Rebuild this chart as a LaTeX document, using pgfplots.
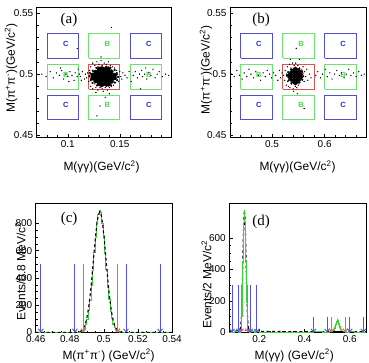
\documentclass[border=0pt]{standalone}
\usepackage{fontspec}
\setmainfont{Liberation Sans}
\newfontfamily\seriffont{Liberation Serif}
\usepackage{pgfplots}
\pgfplotsset{compat=1.18}
\usetikzlibrary{arrows.meta}
\definecolor{bbox}{RGB}{80,80,205}
\definecolor{gbox}{RGB}{110,225,110}
\definecolor{rbox}{RGB}{225,80,80}
\definecolor{ctext}{RGB}{40,40,210}
\definecolor{btext}{RGB}{60,225,60}
\definecolor{atext}{RGB}{230,30,30}
\definecolor{hgreen}{RGB}{60,210,60}
\definecolor{arrowblue}{RGB}{80,80,235}
\definecolor{myred}{RGB}{245,95,95}
\pgfplotsset{
  panel/.style={
    scale only axis,
    axis line style={line width=0.6pt},
    tick align=inside, tick pos=left,
    major tick length=3.5pt, minor tick length=2pt,
    every tick/.style={black, line width=0.5pt},
    /pgf/number format/assume math mode=true,
    /pgf/number format/fixed,
    tick label style={font=\fontsize{10}{12}\selectfont},
    label style={font=\fontsize{12}{14}\selectfont},
  }
}
\newcommand{\bx}[5]{\addplot[color=#1, line width=0.7pt, line join=miter] coordinates {(#2,#4) (#3,#4) (#3,#5) (#2,#5) (#2,#4)};}
\newcommand{\arr}[3]{\addplot[color=#1, line width=0.9pt, -{Straight Barb[length=3pt,width=5pt]}] coordinates {(#2,#3) (#2,0)};}
\newcommand{\rarr}[2]{\addplot[color=myred, line width=1.1pt, -{Straight Barb[length=3pt,width=5pt]}] coordinates {(#1,#2) (#1,0)};}
\newcommand{\lt}[4]{\node[text=#1, font=\fontsize{7.5}{9}\selectfont\bfseries] at (axis cs:#2,#3) {#4};}
\begin{document}
\begin{tikzpicture}
\path[use as bounding box] (0,0) rectangle (369bp,-363bp);

% ---------------- (a) ----------------
\begin{axis}[panel, at={(36.7bp,-137.3bp)}, anchor=south west,
  width=135bp, height=130bp,
  xmin=0.07, xmax=0.2, ymin=0.4485, ymax=0.5545,
  xtick={0.1,0.15}, ytick={0.45,0.5,0.55},
  minor xtick={0.07,0.08,0.09,0.11,0.12,0.13,0.14,0.16,0.17,0.18,0.19,0.2},
  minor ytick={0.46,0.47,0.48,0.49,0.51,0.52,0.53,0.54},
  xlabel={M(γγ)(GeV/c\textsuperscript{2})},
  ylabel={M(π\textsuperscript{+}π\textsuperscript{-})(GeV/c\textsuperscript{2})},
  xlabel style={at={(axis description cs:0.48,-0.228)}, anchor=center},
  ylabel style={at={(axis description cs:-0.19,0.533)}, anchor=center},
]
\bx{bbox}{0.08}{0.11}{0.513}{0.533}
\bx{bbox}{0.16}{0.19}{0.513}{0.533}
\bx{bbox}{0.08}{0.11}{0.463}{0.483}
\bx{bbox}{0.16}{0.19}{0.463}{0.483}
\bx{gbox}{0.12}{0.15}{0.513}{0.533}
\bx{gbox}{0.12}{0.15}{0.463}{0.483}
\bx{gbox}{0.08}{0.11}{0.488}{0.508}
\bx{gbox}{0.16}{0.19}{0.488}{0.508}
\bx{rbox}{0.12}{0.15}{0.488}{0.508}
\addplot[only marks, mark=*, mark size=0.4pt, black] coordinates {
(0.118,0.497)(0.119,0.501)(0.120,0.494)(0.121,0.503)(0.121,0.499)(0.122,0.490)(0.122,0.506)(0.123,0.498)
(0.124,0.488)(0.124,0.509)(0.125,0.502)(0.126,0.492)(0.126,0.507)(0.127,0.489)(0.128,0.510)(0.129,0.487)
(0.129,0.506)(0.130,0.508)(0.131,0.489)(0.132,0.511)(0.133,0.488)(0.133,0.507)(0.134,0.486)(0.135,0.509)
(0.136,0.489)(0.137,0.508)(0.138,0.487)(0.139,0.510)(0.140,0.489)(0.141,0.507)(0.142,0.490)(0.143,0.506)
(0.144,0.491)(0.145,0.505)(0.146,0.493)(0.147,0.503)(0.147,0.496)(0.148,0.500)(0.149,0.494)(0.150,0.502)
(0.151,0.498)(0.152,0.496)(0.153,0.501)(0.155,0.499)(0.117,0.500)(0.116,0.496)(0.114,0.502)(0.112,0.498)
(0.113,0.495)(0.157,0.497)(0.159,0.502)(0.127,0.485)(0.140,0.484)(0.132,0.514)(0.136,0.481)
(0.075,0.500)(0.079,0.498)(0.083,0.502)(0.086,0.497)(0.089,0.501)(0.092,0.499)(0.094,0.503)(0.096,0.496)
(0.098,0.500)(0.100,0.498)(0.102,0.502)(0.104,0.499)(0.106,0.495)(0.107,0.501)(0.109,0.498)(0.110,0.504)
(0.111,0.500)(0.163,0.499)(0.165,0.502)(0.167,0.497)(0.169,0.500)(0.171,0.503)(0.172,0.498)(0.174,0.500)
(0.176,0.496)(0.178,0.501)(0.180,0.499)(0.182,0.504)(0.184,0.497)(0.186,0.500)(0.188,0.502)(0.191,0.498)
(0.194,0.500)(0.197,0.499)(0.161,0.494)(0.175,0.505)(0.093,0.505)(0.101,0.494)
(0.142,0.538)(0.131,0.474)(0.109,0.521)(0.128,0.466)(0.170,0.488)
};
\addplot[only marks, mark=*, mark size=0.9pt, black] coordinates {
(0.1483,0.4978)(0.1470,0.5009)(0.1451,0.5033)(0.1410,0.5052)(0.1370,0.5060)(0.1320,0.5054)
(0.1275,0.5051)(0.1240,0.5027)(0.1214,0.5009)(0.1207,0.4982)(0.1220,0.4951)(0.1238,0.4928)
(0.1281,0.4908)(0.1320,0.4900)(0.1371,0.4905)(0.1416,0.4909)(0.1452,0.4932)(0.1475,0.4950)
(0.1228,0.4996)(0.1466,0.4993)(0.1290,0.5038)(0.1400,0.4920)
};
\addplot[only marks, mark=*, mark size=2.1pt, black] coordinates {
(0.1300,0.4920)(0.1332,0.4916)(0.1361,0.4921)(0.1392,0.4917)
(0.1268,0.4945)(0.1301,0.4941)(0.1329,0.4946)(0.1362,0.4942)(0.1391,0.4944)(0.1421,0.4941)
(0.1238,0.4967)(0.1272,0.4970)(0.1299,0.4966)(0.1331,0.4969)(0.1360,0.4967)(0.1390,0.4970)(0.1419,0.4966)(0.1448,0.4969)
(0.1241,0.4994)(0.1269,0.4991)(0.1302,0.4995)(0.1330,0.4992)(0.1362,0.4994)(0.1389,0.4991)(0.1421,0.4995)(0.1450,0.4992)
(0.1270,0.5017)(0.1298,0.5020)(0.1331,0.5016)(0.1360,0.5019)(0.1392,0.5017)(0.1418,0.5020)
(0.1302,0.5042)(0.1330,0.5045)(0.1361,0.5041)(0.1389,0.5044)
};
\lt{ctext}{0.098}{0.5245}{C}
\lt{ctext}{0.178}{0.5245}{C}
\lt{ctext}{0.098}{0.4745}{C}
\lt{ctext}{0.178}{0.4745}{C}
\lt{btext}{0.138}{0.5245}{B}
\lt{btext}{0.138}{0.4745}{B}
\lt{btext}{0.098}{0.4995}{B}
\lt{btext}{0.178}{0.4995}{B}
\lt{atext}{0.138}{0.5}{A}
\node[font=\seriffont\fontsize{15}{17}\selectfont] at (axis description cs:0.239,0.90) {(a)};
\end{axis}

% ---------------- (b) ----------------
\begin{axis}[panel, at={(230bp,-137.3bp)}, anchor=south west,
  width=136.7bp, height=130bp,
  xmin=0.42, xmax=0.68, ymin=0.4485, ymax=0.5545,
  xtick={0.5,0.6}, ytick={0.45,0.5,0.55},
  minor xtick={0.42,0.44,0.46,0.48,0.52,0.54,0.56,0.58,0.62,0.64,0.66,0.68},
  minor ytick={0.46,0.47,0.48,0.49,0.51,0.52,0.53,0.54},
  xlabel={M(γγ)(GeV/c\textsuperscript{2})},
  ylabel={M(π\textsuperscript{+}π\textsuperscript{-})(GeV/c\textsuperscript{2})},
  xlabel style={at={(axis description cs:0.494,-0.228)}, anchor=center},
  ylabel style={at={(axis description cs:-0.176,0.52)}, anchor=center},
]
\bx{bbox}{0.44}{0.50}{0.513}{0.533}
\bx{bbox}{0.60}{0.66}{0.513}{0.533}
\bx{bbox}{0.44}{0.50}{0.463}{0.483}
\bx{bbox}{0.60}{0.66}{0.463}{0.483}
\bx{gbox}{0.52}{0.58}{0.513}{0.533}
\bx{gbox}{0.52}{0.58}{0.463}{0.483}
\bx{gbox}{0.44}{0.50}{0.488}{0.508}
\bx{gbox}{0.60}{0.66}{0.488}{0.508}
\bx{rbox}{0.52}{0.58}{0.488}{0.508}
\addplot[only marks, mark=*, mark size=0.4pt, black] coordinates {
(0.522,0.499)(0.524,0.495)(0.525,0.503)(0.527,0.491)(0.528,0.500)(0.529,0.506)(0.530,0.494)(0.531,0.490)
(0.533,0.508)(0.534,0.489)(0.536,0.505)(0.537,0.492)(0.539,0.509)(0.540,0.488)(0.542,0.507)(0.544,0.490)
(0.545,0.509)(0.547,0.489)(0.549,0.507)(0.550,0.491)(0.552,0.505)(0.553,0.493)(0.555,0.503)(0.556,0.496)
(0.558,0.500)(0.559,0.506)(0.561,0.494)(0.562,0.502)(0.564,0.498)(0.566,0.504)(0.568,0.495)(0.571,0.500)
(0.574,0.497)(0.519,0.501)(0.516,0.497)(0.535,0.512)(0.548,0.484)(0.552,0.512)(0.541,0.486)
(0.423,0.500)(0.428,0.498)(0.433,0.503)(0.438,0.499)(0.443,0.496)(0.447,0.501)(0.452,0.498)(0.456,0.504)
(0.460,0.500)(0.465,0.497)(0.469,0.502)(0.474,0.499)(0.478,0.495)(0.483,0.501)(0.487,0.498)(0.491,0.503)
(0.495,0.500)(0.499,0.497)(0.503,0.501)(0.507,0.499)(0.511,0.495)(0.514,0.503)(0.583,0.499)(0.587,0.502)
(0.592,0.497)(0.596,0.500)(0.601,0.504)(0.605,0.498)(0.610,0.501)(0.614,0.496)(0.619,0.500)(0.623,0.503)
(0.628,0.499)(0.632,0.501)(0.637,0.497)(0.641,0.500)(0.646,0.504)(0.650,0.499)(0.655,0.501)(0.660,0.498)
(0.665,0.502)(0.670,0.499)(0.675,0.500)(0.546,0.521)(0.561,0.472)
};
\addplot[only marks, mark=*, mark size=0.9pt, black] coordinates {
(0.5593,0.4983)(0.5568,0.5020)(0.5518,0.5043)(0.5437,0.5053)(0.5362,0.5039)(0.5306,0.5016)
(0.5286,0.4987)(0.5314,0.4951)(0.5368,0.4927)(0.5442,0.4917)(0.5512,0.4931)(0.5574,0.4955)
};
\addplot[only marks, mark=*, mark size=1.9pt, black] coordinates {
(0.5415,0.4934)(0.5466,0.4932)
(0.5366,0.4953)(0.5414,0.4951)(0.5467,0.4954)(0.5514,0.4951)
(0.5331,0.4975)(0.5364,0.4973)(0.5416,0.4976)(0.5463,0.4973)(0.5516,0.4975)(0.5548,0.4974)
(0.5329,0.4995)(0.5366,0.4997)(0.5414,0.4994)(0.5465,0.4997)(0.5513,0.4995)(0.5551,0.4996)
(0.5367,0.5017)(0.5415,0.5019)(0.5464,0.5016)(0.5516,0.5019)
(0.5414,0.5036)(0.5467,0.5038)
};
\lt{ctext}{0.475}{0.5245}{C}
\lt{ctext}{0.635}{0.5245}{C}
\lt{ctext}{0.475}{0.4745}{C}
\lt{ctext}{0.635}{0.4745}{C}
\lt{btext}{0.555}{0.5245}{B}
\lt{btext}{0.555}{0.4745}{B}
\lt{btext}{0.475}{0.4995}{B}
\lt{btext}{0.635}{0.4995}{B}
\lt{atext}{0.556}{0.5015}{A}
\node[font=\seriffont\fontsize{15}{17}\selectfont] at (axis description cs:0.227,0.90) {(b)};
\end{axis}

% ---------------- (c) ----------------
\begin{axis}[panel, at={(35.7bp,-332.5bp)}, anchor=south west,
  width=136.3bp, height=129.5bp, clip=false,
  xmin=0.46, xmax=0.54, ymin=0, ymax=950,
  xtick={0.46,0.48,0.5,0.52,0.54}, ytick={0,200,400,600,800},
  minor x tick num=3, minor y tick num=3,
  xlabel={M(π\textsuperscript{+}π\textsuperscript{-}) (GeV/c\textsuperscript{2})},
  ylabel={Events/0.8 MeV/c\textsuperscript{2}},
  xlabel style={at={(axis description cs:0.535,-0.177)}, anchor=center},
  ylabel style={at={(axis description cs:-0.112,0.47)}, anchor=center},
]
\addplot[const plot, hgreen, line width=0.8pt] coordinates {
(0.4600,0)(0.4844,2)(0.4852,3)(0.4860,6)(0.4868,10)(0.4876,17)(0.4884,33)(0.4892,62)(0.4900,98)
(0.4908,163)(0.4916,236)(0.4924,345)(0.4932,452)(0.4940,590)(0.4948,700)(0.4956,812)(0.4964,870)
(0.4972,898)(0.4980,880)(0.4988,803)(0.4996,712)(0.5004,578)(0.5012,463)(0.5020,333)(0.5028,243)
(0.5036,156)(0.5044,104)(0.5052,58)(0.5060,36)(0.5068,19)(0.5076,8)(0.5084,6)(0.5092,2)(0.5100,1)
(0.5108,0)(0.5400,0)
};
\addplot[black, line width=1.1pt, dash pattern=on 3pt off 2.5pt] coordinates {
(0.4600,1)(0.4832,1)(0.4848,2)(0.4856,4)(0.4864,9)(0.4872,16)(0.4880,29)(0.4888,51)(0.4896,83)
(0.4904,131)(0.4912,195)(0.4920,278)(0.4928,378)(0.4936,490)(0.4944,606)(0.4952,715)(0.4960,805)
(0.4968,864)(0.4976,885)(0.4984,864)(0.4992,805)(0.5000,715)(0.5008,606)(0.5016,490)(0.5024,378)
(0.5032,278)(0.5040,195)(0.5048,131)(0.5056,83)(0.5064,51)(0.5072,29)(0.5080,16)(0.5088,9)
(0.5096,4)(0.5104,2)(0.5120,1)(0.5400,1)
};
\rarr{0.488}{500}
\rarr{0.508}{500}
\arr{arrowblue}{0.463}{500}
\arr{arrowblue}{0.483}{500}
\arr{arrowblue}{0.513}{500}
\arr{arrowblue}{0.533}{500}
\node[font=\seriffont\fontsize{15}{17}\selectfont] at (axis description cs:0.245,0.877) {(c)};
\end{axis}

% ---------------- (d) ----------------
\begin{axis}[panel, at={(229.3bp,-332.5bp)}, anchor=south west,
  width=136.7bp, height=129.5bp,
  xmin=0.068, xmax=0.672, ymin=0, ymax=820,
  xtick={0.2,0.4,0.6}, ytick={0,200,400,600},
  minor xtick={0.1,0.15,0.25,0.3,0.35,0.45,0.5,0.55,0.65},
  minor y tick num=3,
  xlabel={M(γγ) (GeV/c\textsuperscript{2})},
  ylabel={Events/2 MeV/c\textsuperscript{2}},
  xlabel style={at={(axis description cs:0.475,-0.177)}, anchor=center},
  ylabel style={at={(axis description cs:-0.167,0.37)}, anchor=center},
]
\addplot[color=arrowblue, line width=0.8pt, dash pattern=on 1.5pt off 1.5pt] coordinates {
(0.070,12)(0.100,11)(0.130,13)(0.160,11)(0.200,10)
};
\addplot[black, line width=1.1pt, dash pattern=on 3pt off 2.5pt] coordinates {
(0.068,6)(0.090,7)(0.110,12)(0.118,30)(0.122,110)(0.126,320)(0.130,610)(0.133,740)(0.135,775)
(0.137,740)(0.140,600)(0.144,320)(0.148,110)(0.152,30)(0.160,10)(0.190,7)(0.300,6)(0.400,5)
(0.500,5)(0.600,5)(0.672,5)
};
\addplot[const plot, hgreen, line width=0.9pt] coordinates {
(0.068,3)(0.076,4)(0.084,3)(0.092,5)(0.100,4)(0.106,6)(0.110,3)
(0.114,3)(0.116,8)(0.118,21)(0.120,49)(0.122,100)(0.124,185)(0.126,304)(0.128,449)(0.130,593)
(0.132,700)(0.134,770)(0.136,705)(0.138,590)(0.140,452)(0.142,300)(0.144,188)(0.146,98)(0.148,50)
(0.150,22)(0.152,9)(0.154,4)(0.156,3)(0.162,5)(0.170,4)(0.180,3)(0.190,4)(0.200,3)(0.220,2)
(0.250,3)(0.280,2)(0.320,3)(0.360,2)(0.400,3)(0.440,4)(0.480,3)(0.510,5)
(0.524,4)(0.526,5)(0.528,8)(0.530,13)(0.532,19)(0.534,28)(0.536,38)(0.538,49)(0.540,61)(0.542,70)
(0.544,76)(0.546,78)(0.548,75)(0.550,69)(0.552,60)(0.554,48)(0.556,36)(0.558,26)(0.560,17)(0.562,11)
(0.564,7)(0.566,5)(0.568,4)(0.580,3)(0.600,4)(0.620,3)(0.640,2)(0.660,3)(0.672,3)
};
\addplot[hgreen, line width=1.4pt] coordinates {
(0.528,6)(0.536,38)(0.547,78)(0.558,26)(0.566,5)
};
\addplot[black, line width=1.2pt] coordinates {(0.525,3)(0.570,3)};
\rarr{0.12}{300}
\rarr{0.15}{300}
\rarr{0.52}{100}
\rarr{0.58}{100}
\arr{arrowblue}{0.08}{300}
\arr{arrowblue}{0.11}{300}
\arr{arrowblue}{0.16}{300}
\arr{arrowblue}{0.19}{300}
\arr{arrowblue}{0.44}{100}
\arr{arrowblue}{0.50}{100}
\arr{arrowblue}{0.60}{100}
\arr{arrowblue}{0.66}{100}
\node[font=\seriffont\fontsize{15}{17}\selectfont] at (axis description cs:0.232,0.857) {(d)};
\end{axis}
\end{tikzpicture}
\end{document}
